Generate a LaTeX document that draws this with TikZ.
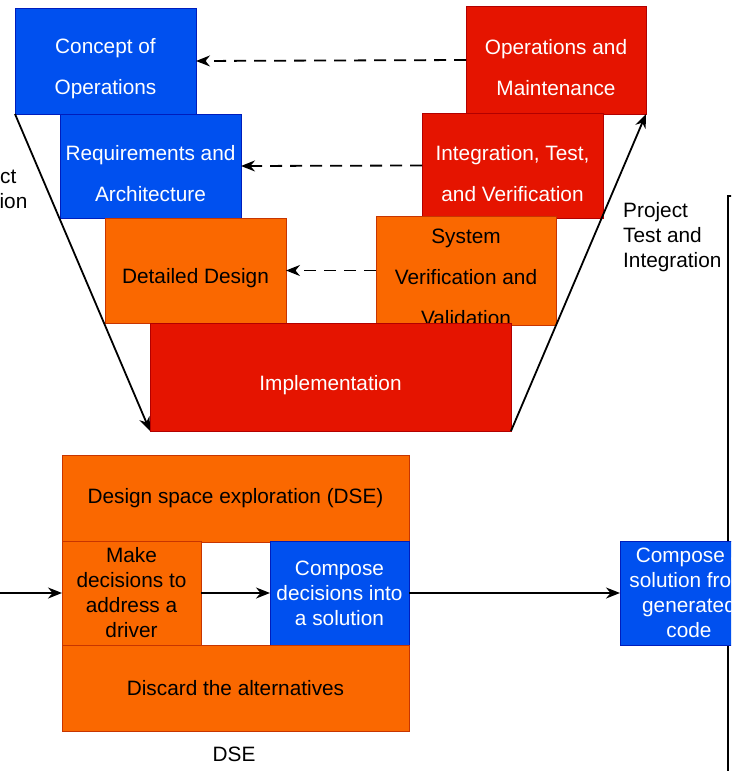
\documentclass[tikz,border=0pt]{standalone}
\usepackage{fontspec}
\setmainfont{Liberation Sans}
\usetikzlibrary{arrows.meta}
\definecolor{vblue}{HTML}{0050EF}
\definecolor{vblueline}{HTML}{001DBC}
\definecolor{vred}{HTML}{E51400}
\definecolor{vredline}{HTML}{B20000}
\definecolor{vorange}{HTML}{FA6800}
\definecolor{vorangeline}{HTML}{C73500}
\newcommand\vstrut{\rule{0pt}{31pt}}
\begin{document}
\begin{tikzpicture}[x=1pt,y=-1pt,
    box/.style={rectangle,inner sep=0pt,outer sep=0pt,line width=1pt,align=center},
    vbox/.style={box,font=\fontsize{20.8}{41}\selectfont},
    dbox/.style={box,font=\fontsize{20.8}{25}\selectfont},
    bluebox/.style={fill=vblue,draw=vblueline,text=white},
    redbox/.style={fill=vred,draw=vredline,text=white},
    orangebox/.style={fill=vorange,draw=vorangeline,text=black},
    plain/.style={font=\fontsize{20.8}{25}\selectfont,inner sep=0pt},
    link/.style={line width=1.8pt,-{Stealth[length=14pt,width=11pt]}},
    back/.style={link,dash pattern=on 12pt off 8pt}]
  \useasboundingbox (0,0) rectangle (731,771);
  \clip (0,0) rectangle (731,771);
  \draw[line width=1.5pt] (728,196) rectangle (790,800);
  \node[vbox,bluebox,minimum width=181pt,minimum height=106pt] (concept) at (105.5,61) {\vstrut Concept of\\Operations};
  \node[vbox,redbox,minimum width=180pt,minimum height=108pt] (opsmaint) at (556,60) {\vstrut Operations and\\Maintenance};
  \node[vbox,bluebox,minimum width=181pt,minimum height=104pt] (reqarch) at (150.5,166) {\vstrut Requirements and\\Architecture};
  \node[vbox,redbox,minimum width=181pt,minimum height=105pt] (inttest) at (512.5,165.5) {\vstrut Integration, Test,\\and Verification};
  \node[vbox,orangebox,minimum width=181pt,minimum height=105pt] (detdesign) at (195.5,270.5) {\vstrut Detailed Design};
  \node[vbox,orangebox,minimum width=180pt,minimum height=105pt,text height=109pt,text depth=-4.5pt] (sysver) at (466,270.5) {System\\Verification and\\Validation};
  \node[vbox,redbox,minimum width=361pt,minimum height=108pt] (impl) at (330.5,377) {\vstrut Implementation};
  \draw[back] (opsmaint.west) -- (concept.east);
  \draw[back] (inttest.west) -- (reqarch.east);
  \draw[back] (sysver.west) -- (detdesign.east);
  \draw[link] (concept.south west) -- (impl.south west);
  \draw[link] (impl.south east) -- (opsmaint.south east);
  \node[plain,align=center] (define) at (-16,189) {Project\\Definition};
  \node[plain,anchor=west,align=left] (testint) at (623,237) {Project\\Test and\\Integration};
  \node[dbox,orangebox,minimum width=347pt,minimum height=87pt] (dse) at (235.5,498.5) {Design space exploration (DSE)};
  \node[dbox,orangebox,minimum width=139pt,minimum height=104pt] (makedec) at (131.5,593) {Make\\decisions to\\address a\\driver};
  \node[dbox,bluebox,minimum width=139pt,minimum height=104pt] (compdec) at (339.5,593) {Compose\\decisions into\\a solution};
  \node[dbox,orangebox,minimum width=347pt,minimum height=86pt] (discard) at (235.5,688) {Discard the alternatives};
  \node[plain] (dselabel) at (234,754) {DSE};
  \node[dbox,bluebox,minimum width=138pt,minimum height=104pt] (compgen) at (689,593) {Compose a\\solution from\\generated\\code};
  \coordinate (feed) at (-5,593);
  \draw[link] (feed) -- (makedec.west);
  \draw[link] (makedec.east) -- (compdec.west);
  \draw[link] (compdec.east) -- (compgen.west);
\end{tikzpicture}
\end{document}
